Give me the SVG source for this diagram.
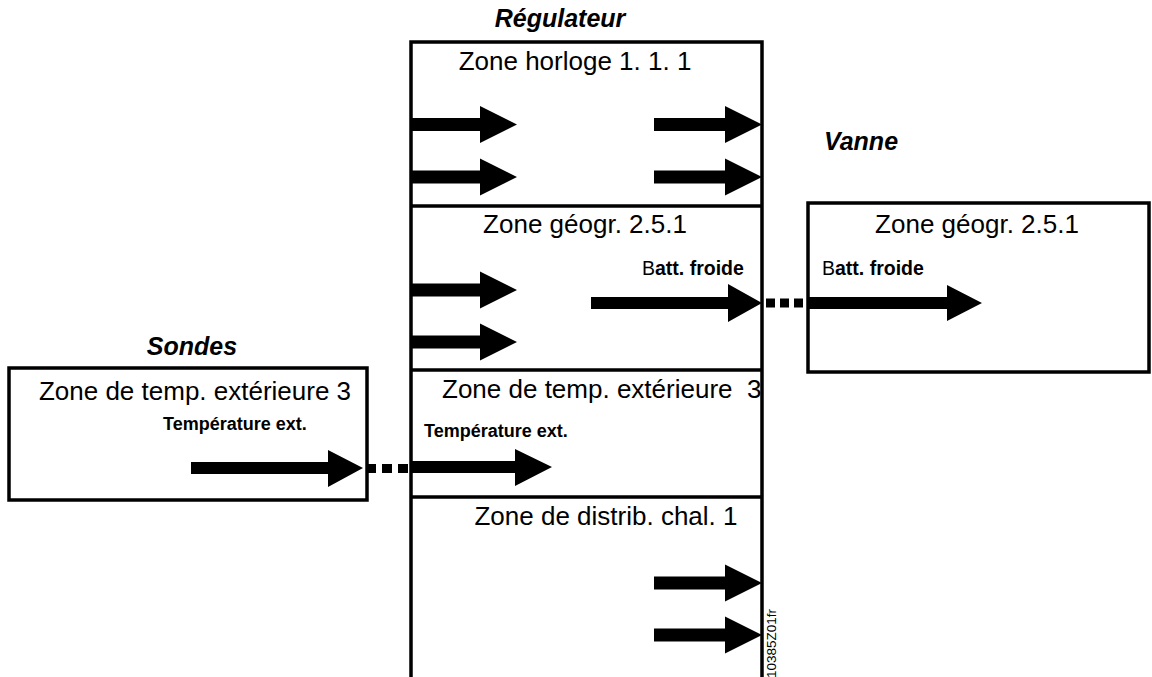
<svg xmlns="http://www.w3.org/2000/svg" width="1152" height="677" viewBox="0 0 1152 677">
<style>
text{font-family:"Liberation Sans",Arial,sans-serif;fill:#000}
.title{font-size:25px;font-weight:bold;font-style:italic}
.zone{font-size:26px}
.lbl{font-size:18px;font-weight:bold}
.lbl2{font-size:19.5px;font-weight:bold}
.box{fill:none;stroke:#000;stroke-width:3.5}
.arr{fill:#000}
.dot{stroke:#000;stroke-width:9;fill:none}
</style>
<defs>
<polygon id="ar" points="0,-6.5 69,-6.5 69,-18.5 106,0 69,18.5 69,6.5 0,6.5"/>
<polygon id="arS" points="0,-6.5 71,-6.5 71,-18.5 108,0 71,18.5 71,6.5 0,6.5"/>
<clipPath id="clipR"><rect x="411" y="370" width="350" height="127"/></clipPath>
</defs>
<rect width="1152" height="677" fill="#fff"/>
<g id="regulateur">
<text class="title" x="560" y="27" text-anchor="middle" font-size="24">Régulateur</text>
<path class="box" d="M411,690 V42 H762 V690"/>
<line class="box" x1="411" y1="206" x2="762" y2="206"/>
<line class="box" x1="411" y1="370" x2="762" y2="370"/>
<line class="box" x1="411" y1="497" x2="762" y2="497"/>
<text class="zone" x="575" y="70" text-anchor="middle">Zone horloge 1. 1. 1</text>
<use href="#ar" class="arr" x="411" y="124.5"/>
<use href="#ar" class="arr" x="411" y="177"/>
<use href="#arS" class="arr" x="654" y="124.5"/>
<use href="#arS" class="arr" x="654" y="177"/>
<text class="zone" x="585" y="233" text-anchor="middle">Zone géogr. 2.5.1</text>
<use href="#ar" class="arr" x="411" y="290"/>
<use href="#ar" class="arr" x="411" y="342"/>
<text class="lbl2" x="642" y="275"><tspan font-weight="normal">B</tspan>att. froide</text>
<polygon class="arr" points="591,297 728,297 728,284 762,303 728,322 728,309 591,309"/>
<text class="zone" x="442" y="398" xml:space="preserve" clip-path="url(#clipR)">Zone de temp. extérieure  3</text>
<text class="lbl" x="424" y="437">Température ext.</text>
<polygon class="arr" points="411,461 515,461 515,449 552,467 515,486 515,473 411,473"/>
<text class="zone" x="606" y="525" text-anchor="middle">Zone de distrib. chal. 1</text>
<use href="#arS" class="arr" x="654" y="583"/>
<use href="#arS" class="arr" x="654" y="635"/>
<text x="0" y="0" font-size="13.5" transform="translate(776,678) rotate(-90)">10385Z01fr</text>
</g>
<g id="sondes">
<text class="title" x="192" y="355" text-anchor="middle">Sondes</text>
<rect class="box" x="9" y="368" width="358" height="132"/>
<text class="zone" x="195" y="400" text-anchor="middle">Zone de temp. extérieure 3</text>
<text class="lbl" x="163" y="430">Température ext.</text>
<polygon class="arr" points="191,462 328,462 328,450 363,468 328,487 328,474 191,474"/>
</g>
<g id="vanne">
<text class="title" x="861" y="150" text-anchor="middle">Vanne</text>
<rect class="box" x="808" y="203" width="341" height="169"/>
<text class="zone" x="977" y="233" text-anchor="middle">Zone géogr. 2.5.1</text>
<text class="lbl2" x="822" y="275"><tspan font-weight="normal">B</tspan>att. froide</text>
<polygon class="arr" points="808,297 947,297 947,285 982,303 947,321 947,309 808,309"/>
</g>
<g id="connectors">
<line class="dot" x1="766" y1="303" x2="806" y2="303" stroke-dasharray="9 5"/>
<line class="dot" x1="366" y1="468.5" x2="408" y2="468.5" stroke-dasharray="10 6"/>
</g>
</svg>
